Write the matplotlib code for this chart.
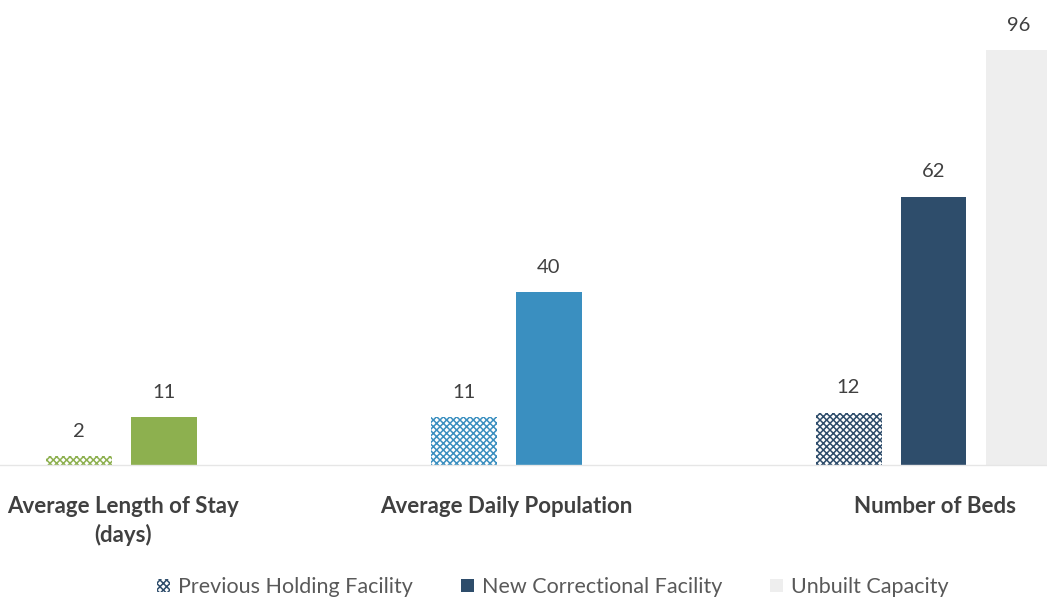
import matplotlib
matplotlib.use("Agg")
import matplotlib.pyplot as plt
from matplotlib.patches import Patch
import numpy as np

categories = ["Average Length of Stay\n(days)", "Average Daily Population", "Number of Beds"]
series_names = ["Previous Holding Facility", "New Correctional Facility", "Unbuilt Capacity"]
previous = [2, 11, 12]
new_facility = [11, 40, 62]
unbuilt = [np.nan, np.nan, 96]

prev_colors = ["#8DB04F", "#3A8FC0", "#2E4D6B"]
new_colors = ["#8DB04F", "#3A8FC0", "#2E4D6B"]
unbuilt_color = "#EEEEEE"
text_color = "#404040"

plt.rcParams["font.family"] = ["Lato", "DejaVu Sans"]
plt.rcParams["hatch.linewidth"] = 1.1

W, H = 1047, 598
fig = plt.figure(figsize=(W / 100, H / 100), dpi=100)
ymax = 100
px_per_unit = 4.32
ax = fig.add_axes([0, (H - 465) / H, 1, ymax * px_per_unit / H])

slot = 85 / 385
width = 66 / 385
x = np.arange(len(categories))

for i in range(len(categories)):
    ax.bar(x[i] - slot, previous[i], width, facecolor="white",
           edgecolor=prev_colors[i], hatch="xxxxx", linewidth=0)
    ax.bar(x[i], new_facility[i], width, color=new_colors[i], linewidth=0)
    if not np.isnan(unbuilt[i]):
        ax.bar(x[i] + slot, unbuilt[i], width, color=unbuilt_color, linewidth=0)

for i in range(len(categories)):
    for off, vals in [(-slot, previous), (0, new_facility), (slot, unbuilt)]:
        v = vals[i]
        if not np.isnan(v):
            ax.annotate(f"{v:g}", (x[i] + off, v), xytext=(0, 12), textcoords="offset points",
                        ha="center", va="bottom", fontsize=14.5, color=text_color, annotation_clip=False)

ax.set_xlim(-163.5 / 385, (W - 163.5) / 385)
ax.set_ylim(0, ymax)
for s in ["top", "right", "left"]:
    ax.spines[s].set_visible(False)
ax.spines["bottom"].set_color("#E6E6E6")
ax.spines["bottom"].set_linewidth(1)
ax.set_yticks([])
ax.set_xticks([-0.105, 0.89, 2.004])
ax.set_xticklabels(categories, fontsize=16, fontweight="bold", color=text_color, linespacing=1.4)
ax.tick_params(axis="x", length=0, pad=22)

handles = [
    Patch(facecolor="white", edgecolor="#2E4D6B", hatch="xxxxx", linewidth=0),
    Patch(facecolor="#2E4D6B", linewidth=0),
    Patch(facecolor=unbuilt_color, linewidth=0),
]
fig.legend(handles, series_names, loc="center", bbox_to_anchor=(553 / W, 1 - 587 / H),
           ncol=3, frameon=False, fontsize=15.5, labelcolor="#595959",
           handlelength=0.6, handleheight=0.6, handletextpad=0.4, columnspacing=2.2)

fig.savefig("out.png", dpi=100)
